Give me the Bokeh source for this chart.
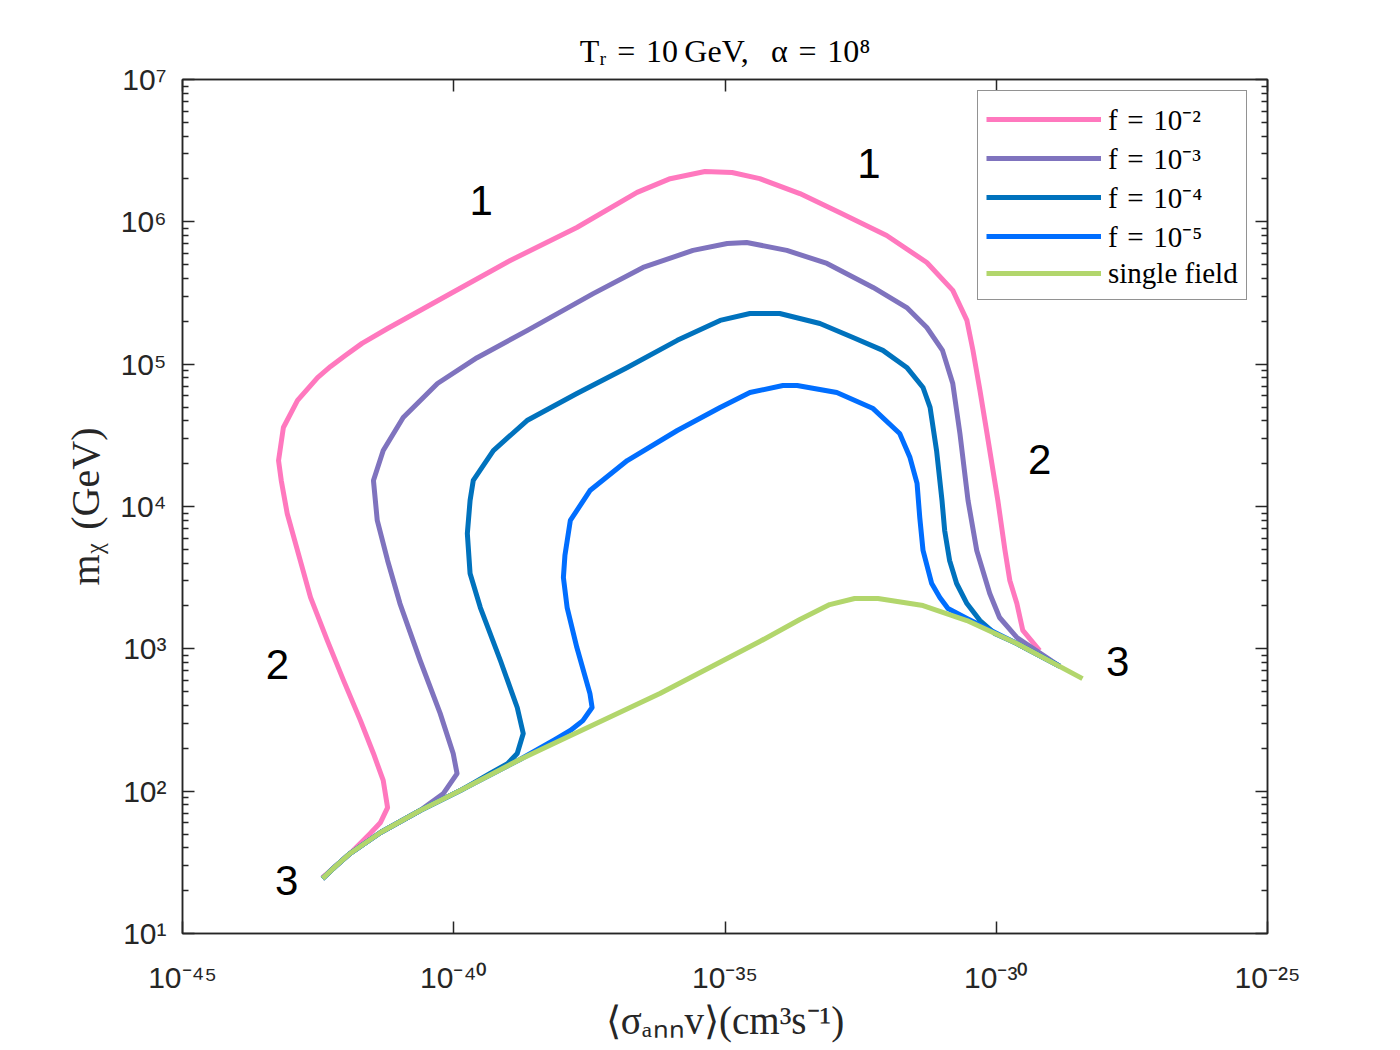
import numpy as np
from bokeh.plotting import figure
from bokeh.models import FixedTicker, CustomJSTickFormatter, LogAxis, ColumnDataSource
from bokeh.embed import file_html
from bokeh.resources import INLINE
from bokeh.core.properties import value

# ---------------- data ----------------
green_sv = [3.80e-43, 6.61e-43, 1.23e-42, 4.47e-42, 2.40e-41, 1.32e-40, 1.66e-39, 9.12e-39, 6.31e-37,
            4.37e-35, 2.40e-34, 8.51e-34, 2.45e-33, 6.61e-33, 4.47e-32, 2.88e-31, 2.40e-30, 3.89e-29]
green_m = [24.3, 29.6, 36.5, 51.2, 73.1, 101, 167, 227, 485,
           1125, 1607, 2046, 2259, 2259, 2014, 1581, 1089, 618]

pink_sv = [3.80e-43, 1.23e-42, 2.88e-42, 4.47e-42, 6.03e-42, 5.01e-42, 3.31e-42, 1.91e-42, 9.33e-43,
           4.68e-43, 2.29e-43, 1.48e-43, 8.51e-44, 6.61e-44, 5.89e-44, 7.24e-44, 1.32e-43, 3.09e-43,
           5.37e-43, 1.00e-42, 2.04e-42, 6.03e-42, 6.46e-41, 1.10e-39, 1.86e-38, 2.40e-37, 9.77e-37,
           4.27e-36, 1.35e-35, 4.37e-35, 2.40e-34, 1.32e-33, 9.55e-33, 5.25e-32, 1.58e-31, 2.88e-31,
           3.72e-31, 5.01e-31, 6.76e-31, 1.07e-30, 1.45e-30, 1.78e-30, 2.40e-30, 3.09e-30, 6.31e-30]
pink_m = [24.7, 36.5, 50.4, 60.3, 76.7, 119, 184, 313, 598,
          1143, 2296, 4178, 8933, 15240, 21040, 35890, 55590, 80540,
          96370, 1.15e5, 1.40e5, 1.78e5, 2.94e5, 5.35e5, 9.12e5, 1.61e6, 2.01e6,
          2.26e6, 2.22e6, 2.01e6, 1.58e6, 1.16e6, 8.02e5, 5.18e5, 3.30e5, 2.03e5,
          1.25e5, 65310, 32580, 11020, 4909, 3020, 2080, 1346, 973]

purple_sv = [3.80e-43, 6.61e-43, 1.23e-42, 4.47e-42, 2.40e-41, 6.46e-41, 1.15e-40, 9.77e-41, 5.62e-41,
             2.40e-41, 1.02e-41, 6.03e-42, 3.89e-42, 3.31e-42, 5.01e-42, 1.17e-41, 5.01e-41, 2.69e-40,
             2.24e-39, 3.72e-38, 3.09e-37, 2.57e-36, 1.10e-35, 2.51e-35, 1.38e-34, 7.59e-34, 5.37e-33,
             2.24e-32, 5.25e-32, 1.02e-31, 1.58e-31, 2.14e-31, 3.02e-31, 4.37e-31, 7.59e-31, 1.15e-30,
             2.40e-30, 1.48e-29]
purple_m = [24.3, 29.6, 36.5, 51.2, 73.1, 96.4, 133, 184, 352,
            828, 2080, 4178, 7980, 15240, 24720, 42170, 73110, 1.11e5,
            1.72e5, 3.13e5, 4.78e5, 6.30e5, 7.05e5, 7.16e5, 6.30e5, 5.10e5, 3.46e5,
            2.50e5, 1.81e5, 1.25e5, 73110, 32580, 11020, 4909, 2449, 1660,
            1202, 754]

dblue_sv = [3.80e-43, 6.61e-43, 1.23e-42, 4.47e-42, 2.40e-41, 1.32e-40, 4.68e-40, 9.77e-40, 1.48e-39,
            1.91e-39, 1.48e-39, 7.24e-40, 3.09e-40, 2.00e-40, 1.78e-40, 2.00e-40, 2.29e-40, 5.37e-40,
            2.24e-39, 1.86e-38, 1.58e-37, 1.32e-36, 8.13e-36, 2.88e-35, 1.02e-34, 5.62e-34, 2.29e-33,
            8.13e-33, 2.24e-32, 4.47e-32, 6.03e-32, 7.94e-32, 1.00e-31, 1.12e-31, 1.38e-31, 1.86e-31,
            2.88e-31, 5.01e-31, 9.33e-31, 2.40e-30, 1.48e-29]
dblue_m = [24.3, 29.6, 36.5, 51.2, 73.1, 101, 133, 156, 184,
           254, 387, 828, 1950, 3381, 6457, 11020, 15240, 24720,
           40180, 62230, 94840, 1.47e5, 2.03e5, 2.27e5, 2.27e5, 1.93e5, 1.54e5,
           1.25e5, 94840, 68550, 49660, 24720, 11020, 6776, 4178, 2877,
           2080, 1581, 1282, 1089, 754]

blue_sv = [3.80e-43, 6.61e-43, 1.23e-42, 4.47e-42, 2.40e-41, 1.32e-40, 1.66e-39, 7.41e-39, 1.41e-38,
           2.40e-38, 3.55e-38, 3.24e-38, 1.86e-38, 1.23e-38, 1.05e-38, 1.12e-38, 1.41e-38, 3.24e-38,
           1.58e-37, 1.32e-36, 8.13e-36, 2.88e-35, 1.17e-34, 2.14e-34, 1.15e-33, 5.37e-33, 1.66e-32,
           2.57e-32, 3.47e-32, 3.89e-32, 4.47e-32, 6.46e-32, 9.12e-32, 1.29e-31, 2.88e-31, 2.40e-30,
           1.48e-29]
blue_m = [24.3, 29.6, 36.5, 51.2, 73.1, 101, 167, 231, 267,
          313, 387, 485, 1021, 1950, 3170, 4529, 7980, 12940,
          21040, 34200, 49660, 63240, 70790, 70790, 63240, 48750, 32580,
          22080, 14520, 8375, 4909, 2877, 2296, 1919, 1633, 1089,
          754]

series_labels = ["f\u2004=\u200410\u207b\u00b2", "f\u2004=\u200410\u207b\u00b3",
                 "f\u2004=\u200410\u207b\u2074", "f\u2004=\u200410\u207b\u2075", "single field"]
series_colors = ["#FF78BE", "#7F73BE", "#0072BD", "#006EFF", "#B2D66C"]

# region annotations (centre of each number)
note_text = ["1", "1", "2", "2", "3", "3"]
note_sv = [3.2e-40, 4.5e-33, 5.6e-44, 6.3e-30, 8.3e-44, 1.74e-28]
note_m = [1.41e6, 2.57e6, 776, 21400, 23.6, 815]

title_text = "T\u1d63\u2004=\u200410\u2009GeV,\u2002\u2009\u03b1\u2004=\u200410\u2078"
x_label = "\u27e8\u03c3\u2090\u2099\u2099v\u27e9(cm\u00b3s\u207b\u00b9)"
y_label = "m\u1d6a\u2004(GeV)"

x_major = [1e-45, 1e-40, 1e-35, 1e-30, 1e-25]
y_major = [1e1, 1e2, 1e3, 1e4, 1e5, 1e6, 1e7]
y_minor = [k * 10.0 ** n for n in range(1, 7) for k in range(2, 10)]

# ---------------- figure ----------------
W, H = 1390, 1048
p = figure(width=W, height=H, x_axis_type="log", y_axis_type="log",
           x_range=(1e-45, 1e-25), y_range=(10, 1e7),
           output_backend="svg", toolbar_location=None,
           min_border_left=182, min_border_right=W - 1267, min_border_top=79, min_border_bottom=H - 933)
p.grid.visible = False
p.outline_line_color = "#262626"
p.outline_line_width = 1.5
p.background_fill_color = "white"
p.border_fill_color = "white"

p.title.text = title_text
p.title.text_font = "Liberation Serif"
p.title.text_font_size = "32px"
p.title.text_font_style = "normal"
p.title.text_color = "black"
p.title.align = "center"
p.title.standoff = 21

sup_code = """
const sup = {'-':'\u207b','0':'\u2070','1':'\u00b9','2':'\u00b2','3':'\u00b3','4':'\u2074','5':'\u2075','6':'\u2076','7':'\u2077','8':'\u2078','9':'\u2079'};
const e = Math.round(Math.log10(tick));
return '10' + String(e).split('').map(c => sup[c]).join('');
"""

def style_axis(ax, labels=True):
    ax.axis_line_color = "#262626"
    ax.axis_line_width = 1.5
    ax.major_tick_line_color = "#262626"
    ax.minor_tick_line_color = "#262626"
    ax.major_tick_line_width = 1.5
    ax.minor_tick_line_width = 1.5
    ax.major_tick_in = 12
    ax.major_tick_out = 0
    ax.minor_tick_in = 6
    ax.minor_tick_out = 0
    ax.major_label_text_font = "Liberation Sans"
    ax.major_label_text_font_size = "30px"
    ax.major_label_text_color = "#262626"
    if labels:
        ax.formatter = CustomJSTickFormatter(code=sup_code)
    else:
        ax.formatter = CustomJSTickFormatter(code="return '';")
        ax.major_label_text_font_size = "1px"

xb = p.xaxis[0]
xb.ticker = FixedTicker(ticks=x_major, minor_ticks=[])
style_axis(xb)
xb.major_label_standoff = 27
xb.axis_label = x_label
xb.axis_label_text_font = "Liberation Serif"
xb.axis_label_text_font_style = "normal"
xb.axis_label_text_font_size = "39px"
xb.axis_label_text_color = "#262626"
xb.axis_label_standoff = 2

yl = p.yaxis[0]
yl.ticker = FixedTicker(ticks=y_major, minor_ticks=y_minor)
style_axis(yl)
yl.major_label_standoff = 16
yl.axis_label = y_label
yl.axis_label_text_font = "Liberation Serif"
yl.axis_label_text_font_style = "normal"
yl.axis_label_text_font_size = "40px"
yl.axis_label_text_color = "#262626"
yl.axis_label_standoff = 9

xt = LogAxis(ticker=FixedTicker(ticks=x_major, minor_ticks=[]))
style_axis(xt, labels=False)
p.add_layout(xt, "above")
yr = LogAxis(ticker=FixedTicker(ticks=y_major, minor_ticks=y_minor))
style_axis(yr, labels=False)
p.add_layout(yr, "right")

# ---------------- curves ----------------
all_sv = [pink_sv, purple_sv, dblue_sv, blue_sv, green_sv]
all_m = [pink_m, purple_m, dblue_m, blue_m, green_m]
for sv, m, lab, col in zip(all_sv, all_m, series_labels, series_colors):
    p.line(x=sv, y=m, line_color=col, line_width=5, line_join="round", legend_label=lab)

# ---------------- region numbers ----------------
src = ColumnDataSource(dict(x=note_sv, y=note_m, t=note_text))
p.text(x="x", y="y", text="t", source=src, text_font=value("Liberation Sans"),
       text_font_size="42px", text_align="center", text_baseline="middle", text_color="black")

# ---------------- legend ----------------
lg = p.legend[0]
lg.location = (795, 633)
lg.margin = 0
lg.padding = 8
lg.spacing = -1
lg.label_height = 36
lg.glyph_height = 36
lg.glyph_width = 115
lg.label_standoff = 7
lg.label_text_font = "Liberation Serif"
lg.label_text_font_size = "29px"
lg.label_text_color = "black"
lg.border_line_color = "#262626"
lg.border_line_width = 1.5
lg.background_fill_color = "white"
lg.background_fill_alpha = 1.0

open("out.html", "w").write(file_html(p, INLINE))
